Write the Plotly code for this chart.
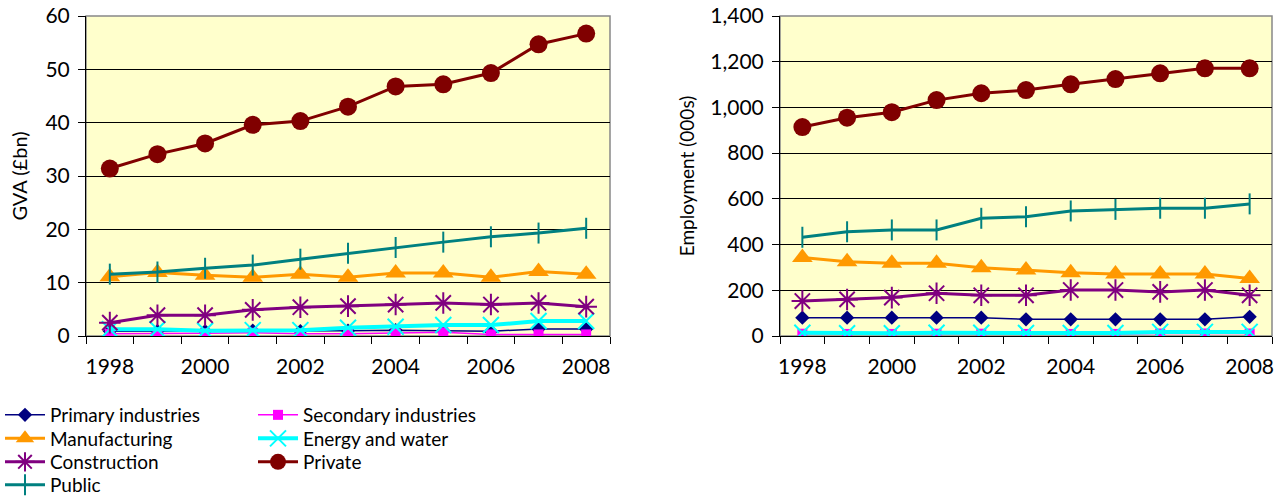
import plotly.graph_objects as go

years = [1998, 1999, 2000, 2001, 2002, 2003, 2004, 2005, 2006, 2007, 2008]
year_labels = ["1998", "2000", "2002", "2004", "2006", "2008"]

# GVA (£bn)
gva_primary = [0.9, 0.9, 0.9, 1.0, 0.9, 1.0, 1.1, 1.0, 0.9, 1.3, 1.3]
gva_secondary = [0.4, 0.4, 0.5, 0.6, 0.4, 0.4, 0.5, 0.7, 0.3, 0.3, 0.3]
gva_manufacturing = [11.1, 11.9, 11.4, 11.0, 11.6, 11.0, 11.8, 11.8, 11.0, 12.1, 11.6]
gva_energy = [1.25, 1.25, 1.0, 1.1, 1.1, 1.55, 1.75, 2.05, 2.05, 2.8, 2.8]
gva_construction = [2.5, 3.9, 3.9, 4.9, 5.4, 5.6, 5.9, 6.2, 5.9, 6.2, 5.5]
gva_private = [31.4, 34.1, 36.1, 39.6, 40.3, 43.0, 46.8, 47.2, 49.3, 54.7, 56.7]
gva_public = [11.6, 12.0, 12.7, 13.3, 14.4, 15.5, 16.6, 17.6, 18.6, 19.3, 20.2]

# Employment (000s)
emp_primary = [80, 80, 80, 80, 80, 73, 73, 73, 73, 73, 84]
emp_secondary = [10, 9, 9, 10, 10, 9, 9, 9, 11, 11, 11]
emp_manufacturing = [343, 325, 318, 318, 299, 289, 277, 271, 271, 271, 252]
emp_energy = [14, 12, 12, 14, 14, 13, 13, 13, 18, 18, 18]
emp_construction = [153, 160, 168, 187, 178, 178, 201, 201, 193, 201, 178]
emp_private = [914, 955, 979, 1032, 1062, 1076, 1101, 1124, 1149, 1171, 1171]
emp_public = [432, 456, 464, 464, 515, 522, 547, 554, 559, 559, 578]

FONT = "Lato"
W, H = 1286, 498

# legend grid: two columns, four rows (left column first row-wise)
legend_cols = [0, 253]
legend_rows = [415, 438.5, 462, 485]

series = [
    # name, gva, emp, colour, symbol, marker size, line width, marker line width, (col, row)
    ("Primary industries", gva_primary, emp_primary, "#000080", "diamond", 11, 1.5, 0, (0, 0)),
    ("Secondary industries", gva_secondary, emp_secondary, "#FF00FF", "square", 10, 1.5, 0, (1, 0)),
    ("Manufacturing", gva_manufacturing, emp_manufacturing, "#FF9900", "triangle-up", 18, 3, 0, (0, 1)),
    ("Energy and water", gva_energy, emp_energy, "#00FFFF", "x-thin-open", 16, 4, 2, (1, 1)),
    ("Construction", gva_construction, emp_construction, "#800080", "asterisk-open", 18, 3, 2, (0, 2)),
    ("Private", gva_private, emp_private, "#800000", "circle", 18, 3, 0, (1, 2)),
    ("Public", gva_public, emp_public, "#008080", "line-ns-open", 15, 3, 2, (0, 3)),
]

fig = go.Figure()
legend_layout = {}
for i, (name, gva, emp, colour, symbol, msize, lw, mlw, (col, row)) in enumerate(series):
    leg = "legend" if i == 0 else f"legend{i + 1}"
    marker = dict(symbol=symbol, size=msize, color=colour,
                  line=dict(color=colour, width=mlw))
    fig.add_trace(go.Scatter(
        x=years, y=gva, name=name, mode="lines+markers",
        line=dict(color=colour, width=lw), marker=marker,
        legend=leg, legendgroup=name, xaxis="x", yaxis="y",
    ))
    fig.add_trace(go.Scatter(
        x=years, y=emp, name=name, mode="lines+markers",
        line=dict(color=colour, width=lw), marker=marker,
        legend=leg, legendgroup=name, showlegend=False, xaxis="x2", yaxis="y2",
    ))
    legend_layout[leg] = dict(
        x=legend_cols[col] / W, y=1 - legend_rows[row] / H,
        xanchor="left", yanchor="middle",
        font=dict(family=FONT, size=19, color="black"),
        itemwidth=40, bgcolor="rgba(0,0,0,0)", borderwidth=0,
    )

ydom = [1 - 336 / H, 1 - 16 / H]

xaxis_common = dict(
    range=[1997.5, 2008.5],
    tickmode="array",
    tickvals=[int(y) for y in year_labels],
    ticktext=year_labels,
    ticks="outside", ticklen=7, tickcolor="rgba(0,0,0,0)",
    ticklabelstandoff=5,
    minor=dict(tickmode="array", tickvals=[y - 0.5 for y in years] + [years[-1] + 0.5],
               ticks="outside", ticklen=7, tickcolor="black", tickwidth=1),
    showline=True, linecolor="black", linewidth=1,
    showgrid=False, zeroline=False,
    tickfont=dict(family=FONT, size=21, color="black"),
    fixedrange=True,
)
yaxis_common = dict(
    domain=ydom,
    ticks="outside", ticklen=7, tickcolor="black",
    showline=True, linecolor="black", linewidth=1,
    showgrid=True, gridcolor="black", gridwidth=1,
    zeroline=False,
    tickfont=dict(family=FONT, size=21, color="black"),
    ticklabelstandoff=4,
    fixedrange=True,
)

fig.update_layout(
    width=W, height=H,
    margin=dict(l=0, r=0, t=0, b=0, autoexpand=False),
    paper_bgcolor="white",
    plot_bgcolor="#FFFFCC",
    font=dict(family=FONT, color="black"),
    xaxis=dict(domain=[86 / W, 610 / W], anchor="y", **xaxis_common),
    xaxis2=dict(domain=[780 / W, 1272 / W], anchor="y2", **xaxis_common),
    yaxis=dict(anchor="x", range=[0, 60], dtick=10,
               title=dict(text="GVA (£bn)", font=dict(family=FONT, size=20), standoff=12),
               **yaxis_common),
    yaxis2=dict(anchor="x2", range=[0, 1400], dtick=200, tickformat=",",
                title=dict(text="Employment (000s)", font=dict(family=FONT, size=19), standoff=10),
                **yaxis_common),
    showlegend=True,
    **legend_layout,
)

# grey plot-area frame
for xr, yr in (("x domain", "y domain"), ("x2 domain", "y2 domain")):
    fig.add_shape(type="rect", xref=xr, yref=yr, x0=0, x1=1, y0=0, y1=1,
                  line=dict(color="#888888", width=1.5), layer="below")

fig.write_html("out.html")
